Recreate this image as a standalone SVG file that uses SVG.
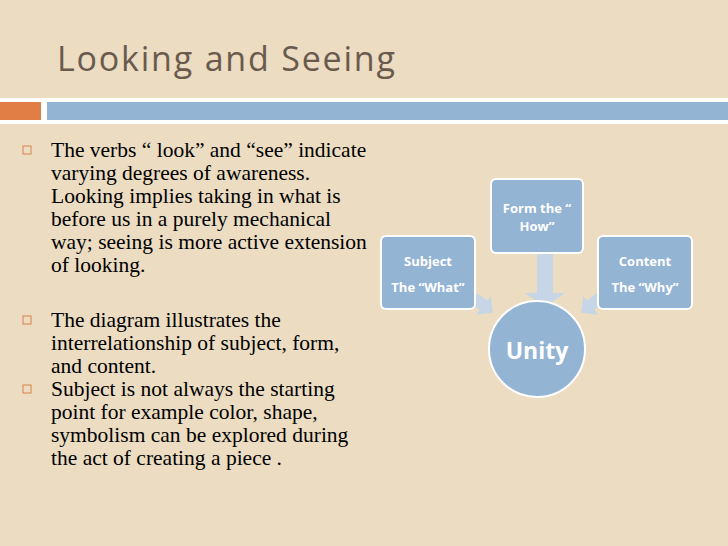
<svg xmlns="http://www.w3.org/2000/svg" width="728" height="546" viewBox="0 0 728 546">
<defs>
<polygon id="sarr" points="0,-6 12,-6 12,-12 24,0 12,12 12,6 0,6"/>
</defs>
<style>
.body{font-family:"Liberation Serif",serif;font-size:21.5px;fill:#000}
.bul{fill:none;stroke:#d9844a;stroke-width:1}
.box{fill:#94b4d4;stroke:#fff;stroke-width:2}
.lbl{font-family:"Open Sans","DejaVu Sans",sans-serif;font-weight:bold;font-size:13px;fill:#fff;text-anchor:middle}
.big{font-size:23px}
.arr{fill:#c6d6e6}
</style>
<rect width="728" height="546" fill="#ebdcc2"/>
<text x="57" y="71" font-family="'Open Sans','DejaVu Sans',sans-serif" font-size="34" letter-spacing="1.8" fill="#6a5a4e">Looking and Seeing</text>
<rect x="0" y="98" width="728" height="26" fill="#fff"/>
<rect x="0" y="102" width="41" height="18" fill="#e07e45"/>
<rect x="47" y="102" width="681" height="18" fill="#93b4d3"/>
<g id="text">
<rect class="bul" x="23" y="146" width="8" height="8"/>
<text class="body" x="51" y="157">The verbs “ look” and “see” indicate</text>
<text class="body" x="51" y="180">varying degrees of awareness.</text>
<text class="body" x="51" y="203">Looking implies taking in what is</text>
<text class="body" x="51" y="226">before us in a purely mechanical</text>
<text class="body" x="51" y="249">way; seeing is more active extension</text>
<text class="body" x="51" y="272">of looking.</text>
<rect class="bul" x="23" y="316" width="8" height="8"/>
<text class="body" x="51" y="327">The diagram illustrates the</text>
<text class="body" x="51" y="350">interrelationship of subject, form,</text>
<text class="body" x="51" y="373">and content.</text>
<rect class="bul" x="23" y="385" width="8" height="8"/>
<text class="body" x="51" y="396">Subject is not always  the starting</text>
<text class="body" x="51" y="419">point  for example color, shape,</text>
<text class="body" x="51" y="442">symbolism can be explored during</text>
<text class="body" x="51" y="465">the act of creating a piece .</text>
</g>
<g id="connectors">
<polygon class="arr" points="537,254 553,254 553,293 565,293 545,307 525,293 537,293"/>
<use href="#sarr" class="arr" transform="translate(474,298) rotate(38)"/>
<use href="#sarr" class="arr" transform="translate(600,298) rotate(142)"/>
</g>
<g id="subject">
<rect class="box" x="381" y="236" width="94" height="73" rx="5"/>
<text class="lbl" x="428" y="266">Subject</text>
<text class="lbl" x="428" y="292">The “What”</text>
</g>
<g id="form">
<rect class="box" x="491" y="179" width="92" height="74" rx="5"/>
<text class="lbl" x="537" y="213">Form the “</text>
<text class="lbl" x="537" y="231">How”</text>
</g>
<g id="content">
<rect class="box" x="598" y="236" width="94" height="73" rx="5"/>
<text class="lbl" x="645" y="266">Content</text>
<text class="lbl" x="645" y="292">The “Why”</text>
</g>
<g id="unity">
<circle class="box" cx="537" cy="349" r="48"/>
<text class="lbl big" x="537" y="359">Unity</text>
</g>
</svg>
